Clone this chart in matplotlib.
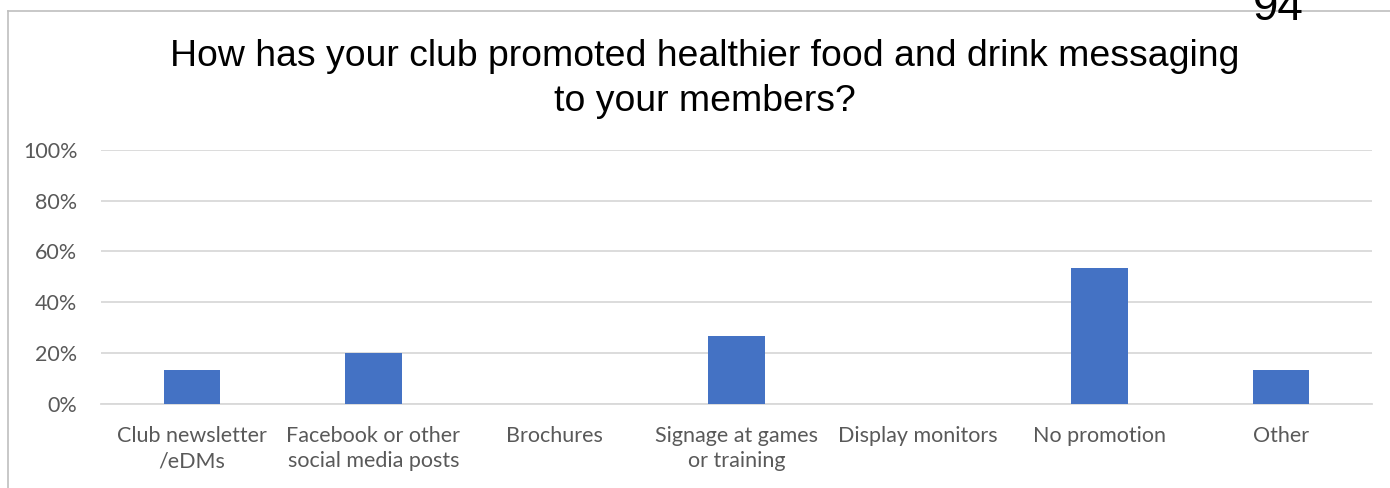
import numpy as np
import matplotlib.pyplot as plt
from matplotlib.lines import Line2D
from matplotlib.ticker import PercentFormatter

categories = ["Club newsletter\n/eDMs", "Facebook or other\nsocial media posts", "Brochures",
              "Signage at games\nor training", "Display monitors", "No promotion", "Other"]
counts = [2, 3, 0, 4, 0, 8, 2]
respondents = 15
shares = [100 * c / respondents for c in counts]
yticks = [0, 20, 40, 60, 80, 100]

W, H = 1390, 488
fig = plt.figure(figsize=(W / 100, H / 100), dpi=100)
ax = fig.add_axes([101 / W, 1 - 403.5 / H, (1372 - 101) / W, (403.5 - 150) / H])

x = np.arange(len(categories))
ax.bar(x, shares, width=0.31, color="#4472C4", zorder=3)

ax.set_xlim(-0.5, len(categories) - 0.5)
ax.set_ylim(0, 100)
ax.set_yticks(yticks)
ax.yaxis.set_major_formatter(PercentFormatter(decimals=0))
ax.grid(axis="y", color="#d9d9d9", linewidth=1.3, zorder=0)
for side in ["top", "right", "left"]:
    ax.spines[side].set_visible(False)
ax.spines["bottom"].set_color("#d9d9d9")
ax.spines["bottom"].set_linewidth(1.3)
ax.tick_params(length=0)
ax.tick_params(axis="y", pad=17)
ax.tick_params(axis="x", pad=16)
ax.set_xticks(x)
ax.set_xticklabels(categories, linespacing=1.35)
for lab in ax.get_xticklabels() + ax.get_yticklabels():
    lab.set_fontfamily("Lato")
    lab.set_fontsize(15.5)
    lab.set_color("#595959")

fig.text(0.5 * (172 + 1238) / W, 1 - 79 / H,
         "How has your club promoted healthier food and drink messaging\nto your members?",
         ha="center", va="center", fontsize=26.9, family="Liberation Sans",
         color="black", linespacing=1.4)

# chart frame, only the top and left edges fall inside the image
fig.add_artist(Line2D([8 / W, 8 / W], [0, 1 - 11 / H], transform=fig.transFigure,
                      color="#bfbfbf", linewidth=1.2))
fig.add_artist(Line2D([8 / W, 1], [1 - 11 / H, 1 - 11 / H], transform=fig.transFigure,
                      color="#bfbfbf", linewidth=1.2))

fig.text(1278 / W, 1 - 20 / H, "94", ha="center", va="baseline", fontsize=33,
         family="Liberation Sans", color="black")

fig.savefig("out.png", dpi=100)
